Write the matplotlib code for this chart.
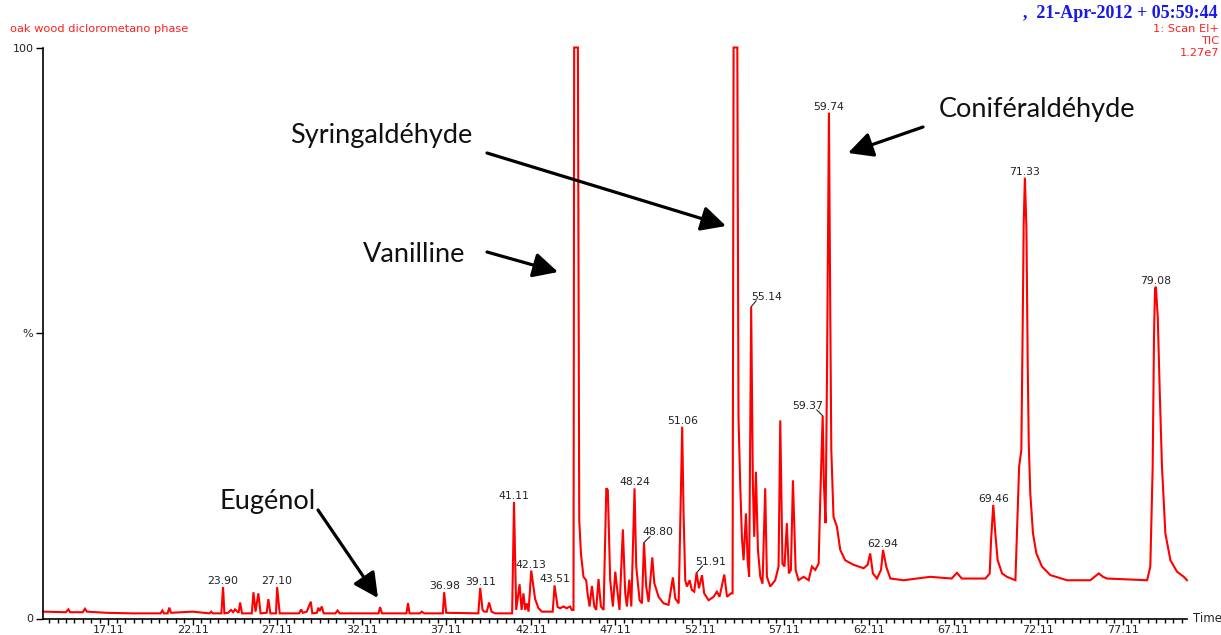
import matplotlib
matplotlib.use("Agg")
import matplotlib.pyplot as plt
from matplotlib.ticker import FixedLocator
import numpy as np

# ---------------- data ----------------
trace_time = [
    13.27, 14.60, 14.75, 14.85, 15.60, 15.73, 15.85, 17.00, 18.50, 20.20, 20.31, 20.40,
    20.62, 20.72, 20.82, 22.10, 23.10, 23.20, 23.30, 23.80, 23.90, 23.98, 24.20, 24.37,
    24.50, 24.61, 24.82, 24.91, 25.02, 25.60, 25.70, 25.82, 25.99, 26.12, 26.48, 26.58,
    26.70, 27.03, 27.10, 27.25, 28.40, 28.52, 28.62, 28.85, 29.09, 29.18, 29.45, 29.54,
    29.62, 29.74, 29.85, 30.55, 30.67, 30.80, 33.10, 33.19, 33.30, 34.75, 34.84, 34.93,
    35.55, 35.65, 35.80, 36.90, 36.98, 37.10, 39.00, 39.11, 39.25, 39.35, 39.50, 39.64,
    39.78, 40.00, 41.00, 41.11, 41.24, 41.44, 41.56, 41.67, 41.77, 41.87, 41.97, 42.13,
    42.36, 42.56, 42.76, 43.40, 43.51, 43.69, 43.84, 44.04, 44.22, 44.43, 44.53, 44.63,
    44.67, 44.89, 44.97, 45.07, 45.22, 45.38, 45.46, 45.58, 45.72, 45.86, 45.97, 46.11,
    46.25, 46.41, 46.57, 46.66, 46.80, 46.96, 47.10, 47.24, 47.35, 47.55, 47.69, 47.79,
    47.93, 48.05, 48.24, 48.34, 48.54, 48.68, 48.80, 48.93, 49.07, 49.29, 49.41, 49.66,
    49.96, 50.25, 50.51, 50.65, 50.85, 51.06, 51.14, 51.24, 51.34, 51.50, 51.63, 51.77,
    51.91, 52.05, 52.23, 52.36, 52.62, 52.92, 53.11, 53.27, 53.55, 53.71, 53.94, 54.04,
    54.10, 54.32, 54.39, 54.49, 54.59, 54.69, 54.83, 54.93, 55.02, 55.14, 55.24, 55.32,
    55.42, 55.54, 55.68, 55.81, 55.97, 56.07, 56.27, 56.56, 56.76, 56.86, 56.99, 57.11,
    57.25, 57.37, 57.49, 57.61, 57.77, 57.94, 58.24, 58.54, 58.73, 58.93, 59.13, 59.23,
    59.37, 59.44, 59.54, 59.62, 59.74, 59.82, 59.88, 60.01, 60.21, 60.41, 60.70, 61.20,
    61.79, 62.03, 62.18, 62.34, 62.58, 62.82, 62.94, 63.13, 63.37, 64.16, 65.73, 67.00,
    67.31, 67.60, 69.00, 69.25, 69.33, 69.46, 69.58, 69.72, 69.98, 70.27, 70.77, 70.86,
    70.99, 71.12, 71.20, 71.26, 71.33, 71.42, 71.50, 71.56, 71.65, 71.81, 72.01, 72.34,
    72.84, 73.82, 75.20, 75.45, 75.70, 75.95, 76.19, 78.56, 78.75, 78.89, 78.97, 79.03,
    79.08, 79.19, 79.31, 79.44, 79.64, 79.94, 80.33, 80.73, 80.92,
]
trace_pct = [
    1.2, 1.1, 1.6, 1.1, 1.1, 1.7, 1.2, 1.0, 0.9, 0.9, 1.4, 0.9,
    0.9, 1.9, 1.0, 1.2, 0.9, 1.2, 0.9, 0.9, 5.5, 0.9, 1.0, 1.5,
    1.1, 1.6, 1.0, 2.8, 0.9, 0.9, 4.6, 1.2, 4.4, 0.9, 1.0, 3.4,
    0.9, 0.9, 5.5, 0.9, 0.9, 1.6, 1.0, 1.2, 2.95, 0.9, 1.0, 1.9,
    1.3, 2.1, 0.9, 0.9, 1.4, 0.9, 0.9, 2.0, 0.9, 0.9, 2.7, 0.9,
    0.9, 1.2, 0.9, 0.9, 4.6, 1.0, 0.9, 5.35, 1.5, 1.2, 1.2, 2.8,
    1.2, 0.9, 0.9, 20.4, 1.5, 6.0, 1.5, 4.4, 1.5, 2.65, 1.2, 8.4,
    3.4, 1.8, 1.2, 1.2, 5.8, 2.0, 1.8, 2.1, 1.8, 2.1, 1.5, 1.5,
    100.0, 100.0, 17.2, 11.4, 7.3, 6.7, 4.4, 2.1, 5.7, 2.1, 1.5, 6.9,
    2.1, 1.5, 22.8, 22.5, 6.7, 2.1, 8.2, 4.4, 1.5, 15.6, 4.4, 2.1,
    6.8, 2.1, 22.8, 9.1, 3.2, 2.65, 13.3, 5.6, 2.9, 10.7, 6.2, 3.8,
    2.65, 2.4, 7.2, 3.5, 2.65, 33.6, 18.4, 6.7, 5.6, 6.7, 5.0, 4.7,
    8.0, 5.3, 7.6, 4.4, 3.2, 3.8, 4.7, 3.8, 7.7, 3.8, 4.4, 4.4,
    100.0, 100.0, 35.3, 23.6, 14.3, 10.2, 18.4, 10.2, 7.3, 54.6, 23.7, 14.3,
    25.7, 12.0, 7.3, 6.1, 22.8, 7.3, 5.6, 6.7, 9.1, 34.7, 9.6, 9.1,
    16.7, 7.9, 8.5, 24.2, 8.5, 6.7, 7.3, 6.7, 9.1, 8.5, 9.6, 21.3,
    35.5, 23.7, 16.7, 41.1, 88.6, 52.8, 29.5, 17.8, 16.1, 12.0, 10.2, 9.4,
    8.8, 9.4, 11.4, 7.9, 7.0, 8.5, 12.0, 9.1, 7.0, 6.7, 7.3, 7.0,
    8.0, 7.0, 7.0, 7.9, 13.7, 19.9, 14.9, 10.2, 7.9, 7.3, 6.7, 14.9,
    26.6, 29.5, 51.0, 69.1, 77.2, 68.6, 44.0, 30.7, 21.9, 14.9, 11.4, 9.1,
    7.6, 6.7, 6.7, 7.3, 7.9, 7.3, 7.0, 6.7, 9.1, 26.6, 49.9, 57.8,
    58.1, 52.8, 39.4, 26.6, 14.9, 10.2, 8.2, 7.3, 6.7,
]

label_time = [23.90, 27.10, 36.98, 39.11, 41.11, 42.13, 43.51, 48.24, 48.80,
              51.06, 51.91, 55.14, 59.37, 59.74, 62.94, 69.46, 71.33, 79.08]
label_pct = [5.5, 5.5, 4.6, 5.35, 20.4, 8.4, 5.8, 22.8, 13.3,
             33.6, 8.0, 54.6, 35.5, 88.6, 12.0, 19.9, 77.2, 58.1]
label_text = ["23.90", "27.10", "36.98", "39.11", "41.11", "42.13", "43.51", "48.24",
              "48.80", "51.06", "51.91", "55.14", "59.37", "59.74", "62.94", "69.46",
              "71.33", "79.08"]

xtick_values = [17.11, 22.11, 27.11, 32.11, 37.11, 42.11, 47.11, 52.11,
                57.11, 62.11, 67.11, 72.11, 77.11]
xtick_labels = ["17.11", "22.11", "27.11", "32.11", "37.11", "42.11", "47.11",
                "52.11", "57.11", "62.11", "67.11", "72.11", "77.11"]
ytick_values = [0, 50, 100]
ytick_labels = ["0", "%", "100"]

compound_names = ["Eugénol", "Vanilline", "Syringaldéhyde", "Coniféraldéhyde"]

header_left = "oak wood diclorometano phase"
header_date = ",  21-Apr-2012 + 05:59:44"
header_right = ["1: Scan EI+", "TIC", "1.27e7"]

# ---------------- layout ----------------
W, H = 1221, 635
fig = plt.figure(figsize=(W / 100, H / 100), dpi=100)
ax_left, ax_right, ax_top, ax_bot = 42.5, 1187.0, 47.5, 618.5
ax = fig.add_axes([ax_left / W, 1 - ax_bot / H, (ax_right - ax_left) / W, (ax_bot - ax_top) / H])


def fpos(x, y):
    """image pixel (from top-left) -> figure fraction"""
    return (x / W, 1 - y / H)


RED = "#ff0000"
NUM = "DejaVu Sans"
TXT = "#222222"

ax.plot(trace_time, trace_pct, color=RED, lw=1.5, clip_on=False, solid_joinstyle="miter")
ax.set_xlim(13.22, 80.92)
ax.set_ylim(0, 100)

for s in ["top", "right"]:
    ax.spines[s].set_visible(False)
for s in ["left", "bottom"]:
    ax.spines[s].set_linewidth(1.2)
    ax.spines[s].set_color("black")

ax.xaxis.set_major_locator(FixedLocator(xtick_values))
ax.set_xticklabels(xtick_labels, fontfamily=NUM, fontsize=8, color=TXT)
ax.xaxis.set_minor_locator(FixedLocator(list(np.arange(13.61, 80.9, 0.5))))
ax.tick_params(axis="x", which="major", direction="out", length=4, width=1, pad=0.8)
ax.tick_params(axis="x", which="minor", direction="out", length=3, width=1)
ax.set_yticks(ytick_values)
ax.set_yticklabels(ytick_labels, fontfamily=NUM, fontsize=8, color=TXT)
ax.tick_params(axis="y", direction="out", length=5, width=1, pad=1.5)

ax.text(1.005, 0, "Time", transform=ax.transAxes, ha="left", va="center",
        fontfamily=NUM, fontsize=8.5, color=TXT)

# peak labels
leader = {"48.80": (14, 8, 6, 6), "51.91": (14, 8, 6, 7),
          "55.14": (15, 7, 5, 6), "59.37": (-15, 7, -6, 6)}
for t, h, s in zip(label_time, label_pct, label_text):
    if s in leader:
        dx, dy, lx, ly = leader[s]
        ax.annotate("", xy=(t, h), xytext=(lx, ly), textcoords="offset pixels",
                    arrowprops=dict(arrowstyle="-", lw=0.8, color=TXT,
                                    shrinkA=0, shrinkB=0), annotation_clip=False)
    else:
        dx, dy = 0, 3
    ax.annotate(s, xy=(t, h), xytext=(dx, dy), textcoords="offset pixels",
                ha="center", va="baseline", fontfamily=NUM, fontsize=7.8,
                color=TXT, annotation_clip=False)

# compound names and arrows
name_pos = {"Eugénol": (219, 501), "Vanilline": (363, 254),
            "Syringaldéhyde": (290, 135), "Coniféraldéhyde": (939, 110)}
arrows = {"Eugénol": ((318, 510), (378, 598)), "Vanilline": ((487, 252), (558, 272)),
          "Syringaldéhyde": ((487, 153), (726, 226)),
          "Coniféraldéhyde": ((923, 127), (848, 153))}
for name in compound_names:
    fig.text(*fpos(*name_pos[name]), name, ha="left", va="center",
             fontfamily="Lato", fontsize=19.5, color="#111111")
    tail, head = arrows[name]
    ax.annotate("", xy=fpos(*head), xytext=fpos(*tail), xycoords="figure fraction",
                textcoords="figure fraction",
                arrowprops=dict(arrowstyle="-|>,head_length=0.75,head_width=0.38",
                                lw=2.3, color="black", mutation_scale=20,
                                shrinkA=0, shrinkB=0))

# headers
fig.text(*fpos(10, 29), header_left, ha="left", va="center", fontfamily=NUM,
         fontsize=8.2, color="#ff2020")
fig.text(*fpos(1218, 14), header_date, ha="right", va="center",
         fontfamily="Liberation Serif", fontweight="bold", fontsize=13, color="#1a1ae6")
for txt, y in zip(header_right, [29, 41, 53]):
    fig.text(*fpos(1219, y), txt, ha="right", va="center", fontfamily=NUM,
             fontsize=8.2, color="#ff2020")

fig.savefig("out.png", dpi=100)
